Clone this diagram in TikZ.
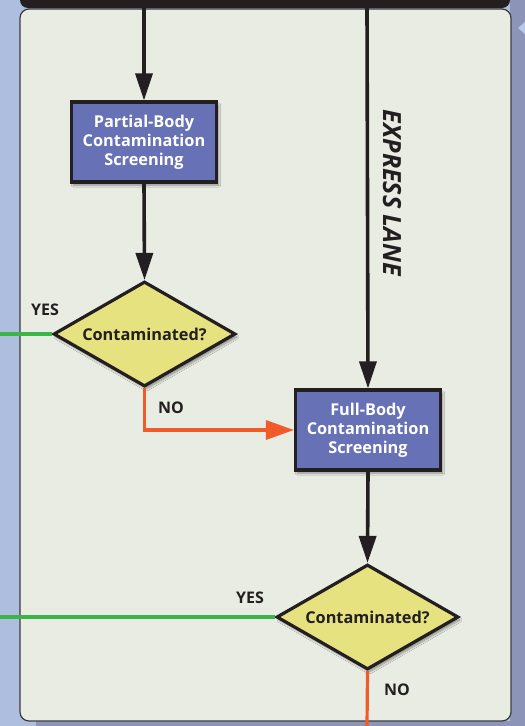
\documentclass[tikz,border=0pt]{standalone}
\usepackage{fontspec}
\setmainfont{Open Sans}
\usetikzlibrary{arrows.meta,shapes.geometric,shadows.blur}
\definecolor{bgblue}{HTML}{AEBEDE}
\definecolor{bgpurple}{HTML}{8C94B8}
\definecolor{panelfill}{HTML}{E9ECE3}
\definecolor{panelline}{HTML}{3C3C3C}
\definecolor{inkblack}{HTML}{231F20}
\definecolor{boxfill}{HTML}{6771B6}
\definecolor{diafill}{HTML}{E5E27F}
\definecolor{yesgreen}{HTML}{3BB54A}
\definecolor{noorange}{HTML}{F15A29}
\definecolor{tipblue}{HTML}{B8C8E8}
\tikzset{
  stepbox/.style={draw=inkblack, line width=3.2pt, fill=boxfill, text=white,
    minimum width=145pt, minimum height=80pt, inner sep=0pt, align=center,
    font=\bfseries\fontsize{16.3}{19}\selectfont,
    blur shadow={shadow blur steps=6, shadow xshift=2pt, shadow yshift=-3pt, shadow opacity=40}},
  decision/.style={diamond, draw=inkblack, line width=3.2pt, fill=diafill, text=inkblack,
    minimum width=182pt, minimum height=105pt, inner sep=0pt, aspect=1.7,
    font=\bfseries\fontsize{16.3}{19}\selectfont,
    blur shadow={shadow blur steps=6, shadow xshift=2pt, shadow yshift=-3pt, shadow opacity=40}},
  flow/.style={draw=inkblack, line width=3.6pt, -{Triangle[length=27pt,width=17pt]}},
  yesline/.style={draw=yesgreen, line width=3.2pt},
  noline/.style={draw=noorange, line width=3.2pt},
  noarrow/.style={noline, -{Triangle[length=28pt,width=19pt]}},
  lbl/.style={text=inkblack, font=\bfseries\fontsize{16}{18}\selectfont, inner sep=0pt},
}
\begin{document}
\begin{tikzpicture}[x=1pt,y=-1pt]
\useasboundingbox (0,0) rectangle (525,726);
\clip (0,0) rectangle (525,726);
% background
\fill[bgblue] (0,0) rectangle (525,726);
\fill[bgpurple] (510,0) rectangle (525,726);
\fill[bgpurple] (36,721) rectangle (525,726);
\fill[tipblue] (525,22) -- (518,28) -- (525,34) -- cycle;
% panel
\draw[panelline, line width=1.2pt, fill=panelfill, rounded corners=9pt] (20,9) rectangle (511,721);
\fill[inkblack, rounded corners=8pt] (20,-12) rectangle (510,8);
% nodes
\coordinate (topL) at (144,8);
\coordinate (topR) at (367,8);
\node[stepbox] (box1) at (144,142) {Partial-Body\\Contamination\\Screening};
\node[decision] (d1) at (144.5,334) {Contaminated?};
\node[stepbox] (box2) at (368,430) {Full-Body\\Contamination\\Screening};
\node[decision] (d2) at (367.5,617) {Contaminated?};
\coordinate (yes1end) at (0,334);
\coordinate (yes2end) at (0,617);
\coordinate (no2end) at (367,727);
% connectors
\draw[flow] (topL) -- (box1.north);
\draw[flow] (box1.south) -- (d1.north);
\draw[flow] (topR) -- (box2.north);
\draw[flow] (box2.south) -- (d2.north);
\draw[yesline] (d1.west) -- (yes1end);
\draw[yesline] (d2.west) -- (yes2end);
\draw[noarrow] (d1.south) |- (box2.west);
\draw[noline] (d2.south) -- (no2end);
% labels
\node[lbl] (yes1) at (45,310) {YES};
\node[lbl] (no1) at (171,408) {NO};
\node[lbl] (yes2) at (250,598) {YES};
\node[lbl] (no2) at (397,690) {NO};
\node[text=inkblack, rotate=-90, font=\bfseries\itshape\fontsize{25}{28}\selectfont, inner sep=0pt] (express) at (392,193) {EXPRESS LANE};
\end{tikzpicture}
\end{document}
